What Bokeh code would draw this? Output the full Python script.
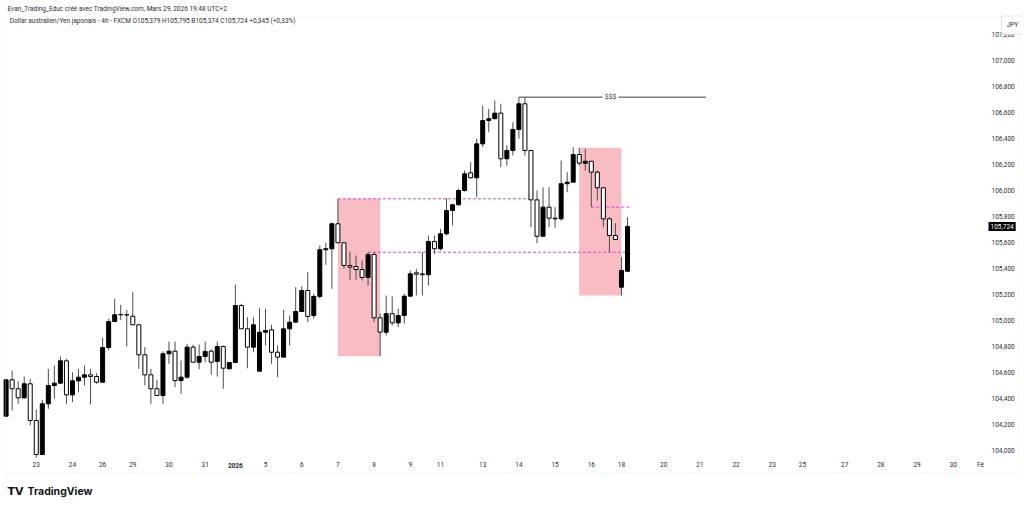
from bokeh.plotting import figure
from bokeh.models import (FixedTicker, CustomJSTickFormatter, Range1d, Label,
                          BoxAnnotation, ColumnDataSource)
from bokeh.embed import file_html
from bokeh.resources import INLINE

# ---- AUD/JPY 4h candles ----
opens = [
    104.264, 104.544, 104.475, 104.405, 104.513, 104.231, 103.969, 104.359, 104.500, 104.518,
    104.690, 104.428, 104.536, 104.564, 104.582, 104.569, 104.525, 104.792, 104.992, 105.044,
    105.044, 105.033, 104.967, 104.736, 104.582, 104.475, 104.423, 104.744, 104.764, 104.538,
    104.564, 104.795, 104.679, 104.723, 104.764, 104.685, 104.800, 104.628, 104.677, 105.115,
    104.936, 104.795, 104.610, 104.910, 104.928, 104.756, 104.718, 104.936, 104.987, 105.069,
    105.231, 105.038, 105.185, 105.544, 105.552, 105.744, 105.598, 105.423, 105.415, 105.392,
    105.331, 105.508, 105.021, 104.910, 105.052, 104.982, 105.038, 105.187, 105.367, 105.359,
    105.352, 105.608, 105.552, 105.667, 105.846, 105.890, 106.000, 106.136, 106.098, 106.359,
    106.538, 106.552, 106.595, 106.244, 106.308, 106.469, 106.667, 106.308, 105.928, 105.648,
    105.872, 105.787, 105.782, 106.052, 106.064, 106.277, 106.210, 106.225, 106.141, 106.021,
    105.782, 105.654, 105.256, 105.379]
closes = [
    104.544, 104.475, 104.405, 104.513, 104.231, 103.969, 104.359, 104.500, 104.518, 104.690,
    104.428, 104.536, 104.564, 104.582, 104.569, 104.525, 104.792, 104.992, 105.044, 105.046,
    105.042, 104.967, 104.736, 104.582, 104.475, 104.423, 104.744, 104.764, 104.538, 104.564,
    104.795, 104.679, 104.723, 104.762, 104.679, 104.800, 104.633, 104.677, 105.115, 104.936,
    104.795, 104.967, 104.910, 104.923, 104.756, 104.718, 104.936, 104.987, 105.069, 105.231,
    105.031, 105.185, 105.544, 105.552, 105.744, 105.598, 105.423, 105.410, 105.392, 105.331,
    105.508, 105.021, 104.910, 105.052, 104.982, 105.038, 105.187, 105.359, 105.356, 105.352,
    105.608, 105.552, 105.667, 105.846, 105.890, 106.000, 106.128, 106.098, 106.359, 106.538,
    106.552, 106.595, 106.244, 106.308, 106.469, 106.667, 106.308, 105.928, 105.648, 105.872,
    105.787, 105.782, 106.052, 106.064, 106.277, 106.210, 106.225, 106.141, 106.021, 105.782,
    105.654, 105.623, 105.385, 105.724]
highs = [
    104.550, 104.615, 104.533, 104.569, 104.552, 104.315, 104.390, 104.628, 104.654, 104.723,
    104.705, 104.602, 104.628, 104.654, 104.628, 104.595, 104.867, 105.013, 105.167, 105.121,
    105.082, 105.218, 104.967, 104.795, 104.628, 104.544, 104.762, 104.838, 104.838, 104.692,
    104.821, 104.813, 104.815, 104.838, 104.779, 104.838, 104.808, 104.677, 105.277, 105.128,
    105.025, 105.025, 105.095, 105.090, 104.967, 104.808, 105.082, 105.038, 105.256, 105.262,
    105.372, 105.205, 105.577, 105.598, 105.754, 105.936, 105.598, 105.531, 105.500, 105.462,
    105.525, 105.525, 105.052, 105.192, 105.185, 105.090, 105.205, 105.385, 105.398, 105.525,
    105.654, 105.654, 105.705, 105.941, 105.898, 106.015, 106.154, 106.218, 106.398, 106.654,
    106.628, 106.692, 106.667, 106.346, 106.525, 106.718, 106.718, 106.308, 106.000, 106.025,
    106.025, 105.872, 106.231, 106.141, 106.333, 106.328, 106.321, 106.225, 106.154, 106.025,
    105.795, 105.748, 105.487, 105.795]
lows = [
    104.262, 104.308, 104.359, 104.400, 104.192, 103.944, 103.965, 104.321, 104.398, 104.515,
    104.359, 104.372, 104.448, 104.500, 104.354, 104.513, 104.525, 104.769, 104.992, 105.002,
    104.800, 104.967, 104.628, 104.500, 104.359, 104.423, 104.359, 104.667, 104.487, 104.436,
    104.552, 104.679, 104.625, 104.679, 104.582, 104.569, 104.475, 104.628, 104.677, 104.936,
    104.633, 104.756, 104.610, 104.808, 104.667, 104.564, 104.718, 104.808, 104.987, 105.064,
    104.987, 105.013, 105.169, 105.428, 105.244, 105.598, 105.398, 105.313, 105.313, 105.308,
    105.269, 104.987, 104.725, 104.885, 104.962, 104.948, 104.975, 105.187, 105.192, 105.192,
    105.269, 105.513, 105.538, 105.654, 105.731, 105.885, 105.992, 106.090, 105.948, 106.333,
    106.448, 106.552, 106.179, 106.192, 106.269, 106.398, 106.269, 105.718, 105.595, 105.648,
    105.718, 105.713, 105.769, 105.987, 106.064, 106.192, 106.154, 105.872, 105.923, 105.718,
    105.525, 105.623, 105.192, 105.374]

# time axis labels (candle index of the day's first bar)
date_tick_pos = [5, 11, 16, 21, 27, 33, 43, 49, 55, 61, 67, 72, 79, 85, 91, 97, 102,
                 109, 115, 121, 127, 132, 139, 145, 151, 157, 161.5]
date_tick_lab = ["23", "24", "26", "29", "30", "31", "5", "6", "7", "8", "9", "11", "13",
                 "14", "15", "16", "18", "20", "21", "22", "23", "25", "27", "28", "29", "30",
                 "Fé"]
year_tick_pos = 38
year_tick_lab = "2026"

price_ticks = [round(104.0 + 0.2 * k, 1) for k in range(17)]
price_axis_at = 162.34      # candle-index position of the price scale

# drawings: zones anchored on candles (start index, end index)
zone_start = [55, 95]
zone_end = [62, 102]
# dashed levels: anchor candle, price kind, end index
lvl_anchor = [55, 60, 97]
lvl_kind = ["high", "high", "low"]
lvl_end = [87.2, 103.0, 103.7]
liq_anchor = 85
liq_end = 116.0
liq_text_pos = 100.2
liq_text = "$$$"

header1 = "Evan_Trading_Educ créé avec TradingView.com, Mars 29, 2026 19:48 UTC+2"
header2 = ("Dollar australien/Yen japonais - 4h - FXCM  O105,379  H105,795  "
           "B105,374  C105,724  +0,345 (+0,33%)")
currency = "JPY"
last_price = closes[-1]

# ---------------------------------------------------------------
FONT = "Roboto"
TXT = "#2a2e39"
W, H = 1022, 505
n = len(opens)
idx = list(range(n))
up = [c >= o for o, c in zip(opens, closes)]
src = ColumnDataSource(dict(
    x=idx, h=highs, l=lows,
    top=[max(o, c) for o, c in zip(opens, closes)],
    bottom=[min(o, c) for o, c in zip(opens, closes)],
    fill=["#000000" if u else "#ffffff" for u in up]))

p = figure(width=W, height=H, output_backend="svg", toolbar_location=None,
           tools="", title=None,
           x_range=Range1d(-0.9282, 168.474), y_range=Range1d(103.57692, 107.46154),
           y_axis_location="right",
           min_border_left=0, min_border_right=0, min_border_top=0,
           min_border_bottom=0)
p.grid.visible = False
p.outline_line_color = None
p.background_fill_color = "white"
p.border_fill_color = "white"

# pane border
p.add_layout(BoxAnnotation(left=5, right=1018, top=H - 16, bottom=H - 472,
                           left_units="screen", right_units="screen",
                           top_units="screen", bottom_units="screen",
                           fill_alpha=0, line_color="#e3e3e3", line_width=1))

# zones
p.quad(left=zone_start, right=zone_end,
       top=[highs[s] for s in zone_start], bottom=[lows[e] for e in zone_end],
       fill_color="#f8bcc3", line_color=None)

# dashed levels
lvl_y = [highs[a] if k == "high" else lows[a] for a, k in zip(lvl_anchor, lvl_kind)]
p.segment(x0=lvl_anchor, y0=lvl_y, x1=lvl_end, y1=lvl_y,
          line_color="#e83ee8", line_dash="3 2", line_width=1)

# liquidity line
p.segment(x0=[liq_anchor], y0=[highs[liq_anchor]], x1=[liq_end], y1=[highs[liq_anchor]],
          line_color="#3c3c3c", line_width=1)

# candles
p.segment(x0="x", y0="l", x1="x", y1="h", source=src, line_color="#4d4d4d", line_width=1)
p.vbar(x="x", width=0.66, top="top", bottom="bottom", fill_color="fill",
       line_color="#000000", line_width=1, source=src)

p.add_layout(Label(x=liq_text_pos, y=highs[liq_anchor], text=liq_text,
                   text_align="center", text_baseline="middle",
                   text_font=FONT, text_font_size="7px", text_color="#3c3c3c",
                   background_fill_color="white", padding=2))

# price axis
ya = p.yaxis[0]
ya.fixed_location = price_axis_at
ya.ticker = FixedTicker(ticks=price_ticks)
ya.formatter = CustomJSTickFormatter(code="return tick.toFixed(3).replace('.', ',');")
ya.axis_line_color = None
ya.major_tick_line_color = None
ya.minor_tick_line_color = None
ya.major_tick_out = 0
ya.major_tick_in = 0
ya.major_label_standoff = 6
ya.major_label_text_font = FONT
ya.major_label_text_font_size = "6.5px"
ya.major_label_text_color = TXT

# time axis
xa = p.xaxis[0]
xa.fixed_location = lows[5] + 0.0022
xa.ticker = FixedTicker(ticks=date_tick_pos)
xa.major_label_overrides = {pos: lab for pos, lab in zip(date_tick_pos, date_tick_lab)}
xa.axis_line_color = None
xa.major_tick_line_color = None
xa.minor_tick_line_color = None
xa.major_tick_out = 0
xa.major_tick_in = 0
xa.major_label_standoff = 4
xa.major_label_text_font = FONT
xa.major_label_text_font_size = "6.5px"
xa.major_label_text_color = TXT

p.add_layout(Label(x=year_tick_pos, y=H - 465, y_units="screen", text=year_tick_lab,
                   text_align="center", text_baseline="middle", text_font=FONT,
                   text_font_size="6.5px", text_font_style="bold", text_color=TXT))

# headers
p.add_layout(Label(x=7, y=H - 8.5, x_units="screen", y_units="screen", text=header1,
                   text_baseline="middle", text_font=FONT, text_font_size="6.5px",
                   text_color=TXT))
p.add_layout(Label(x=9.3, y=H - 20.5, x_units="screen", y_units="screen", text=header2,
                   text_baseline="middle", text_font=FONT, text_font_size="6.5px",
                   text_color=TXT))

# currency box and last price tag
p.add_layout(Label(x=1001, y=H - 24.5, x_units="screen", y_units="screen", text=currency,
                   text_baseline="middle", text_font=FONT, text_font_size="6.5px",
                   text_color=TXT, background_fill_color="white",
                   border_line_color="#e0e3eb", padding=5, border_radius=2))
p.add_layout(Label(x=988, y=last_price, x_units="screen", text="105,724",
                   text_baseline="middle", text_font=FONT, text_font_size="6.5px",
                   text_color="white", background_fill_color="#000000", padding=2))

# TradingView logo
p.add_layout(Label(x=7, y=H - 490.5, x_units="screen", y_units="screen", text="TV",
                   text_baseline="middle", text_font="DejaVu Sans", text_font_size="11px",
                   text_font_style="bold", text_color="#131722"))
p.add_layout(Label(x=27, y=H - 490.5, x_units="screen", y_units="screen", text="TradingView",
                   text_baseline="middle", text_font="Inter", text_font_size="10.5px",
                   text_font_style="bold", text_color="#131722"))

open("out.html", "w").write(file_html(p, INLINE))
